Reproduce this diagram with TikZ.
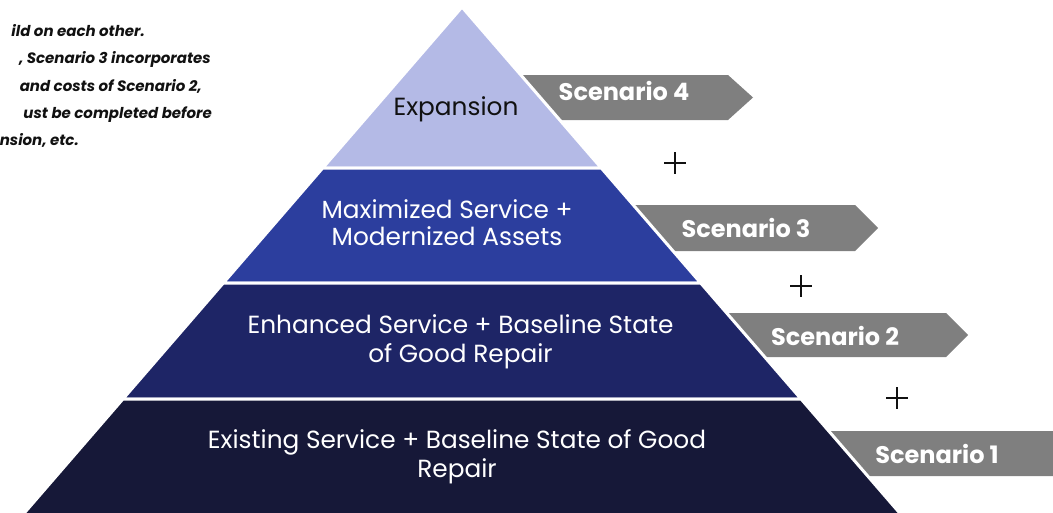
\documentclass[tikz,border=0pt]{standalone}
\usepackage{fontspec}
\setmainfont{Poppins}
\newfontfamily\tierfont{Poppins}
\definecolor{expc}{RGB}{180,186,230}
\definecolor{tthree}{RGB}{44,62,158}
\definecolor{ttwo}{RGB}{30,37,102}
\definecolor{tone}{RGB}{22,24,56}
\definecolor{arrowgrey}{RGB}{127,127,127}
\definecolor{inkc}{RGB}{17,17,17}
\tikzset{
  tier/.style={draw=white, line width=3pt, line join=miter},
  scenarrow/.style={fill=arrowgrey},
  tiertext/.style={anchor=base, inner sep=0pt, font=\tierfont\fontsize{24.8}{28}\selectfont},
  scentext/.style={anchor=base, inner sep=0pt, text=white, font=\tierfont\bfseries\fontsize{24}{28}\selectfont},
  notetext/.style={anchor=base east, inner sep=0pt, text=inkc, font=\tierfont\bfseries\itshape\fontsize{15}{18}\selectfont},
  plusnode/.style={minimum size=22pt, inner sep=0pt,
    path picture={\draw[inkc, line width=1.5pt]
      (path picture bounding box.north) -- (path picture bounding box.south)
      (path picture bounding box.west) -- (path picture bounding box.east);}},
}
\begin{document}
\begin{tikzpicture}[x=1pt,y=-1pt]
\useasboundingbox (0,0) rectangle (1053,512);
\clip (0,0) rectangle (1053,512);
% scenario arrows (behind pyramid)
\fill[scenarrow] (506,75) -- (728,75) -- (753,97.5) -- (728,120) -- (545,120) -- cycle;
\fill[scenarrow] (618,205) -- (855,205) -- (878,228) -- (855,251) -- (658,251) -- cycle;
\fill[scenarrow] (712,313) -- (946,313) -- (968,335) -- (946,357) -- (750,357) -- cycle;
\fill[scenarrow] (814,431) -- (1056,431) -- (1079,453.5) -- (1056,476) -- (853,476) -- cycle;
% pyramid tiers
\fill[expc, tier] (462,7) -- (601.3,168) -- (322.7,168) -- cycle;
\filldraw[fill=tthree, tier] (322.7,168) -- (601.3,168) -- (700.7,283) -- (223.3,283) -- cycle;
\filldraw[fill=ttwo, tier] (223.3,283) -- (700.7,283) -- (801.1,399) -- (122.9,399) -- cycle;
\filldraw[fill=tone, tier] (122.9,399) -- (801.1,399) -- (914.4,530) -- (9.6,530) -- cycle;
% tier texts
\node[tiertext, text=inkc] (t4) at (456,115) {Expansion};
\node[tiertext, text=white] (t3a) at (447,218) {Maximized Service +};
\node[tiertext, text=white] (t3b) at (447,245) {Modernized Assets};
\node[tiertext, text=white] (t2a) at (460.5,333) {Enhanced Service + Baseline State};
\node[tiertext, text=white] (t2b) at (460.5,362) {of Good Repair};
\node[tiertext, text=white] (t1a) at (457,448) {Existing Service + Baseline State of Good};
\node[tiertext, text=white] (t1b) at (457,477) {Repair};
% scenario labels
\node[scentext] (s4) at (624,100) {Scenario 4};
\node[scentext] (s3) at (746,237) {Scenario 3};
\node[scentext] (s2) at (835,345) {Scenario 2};
\node[scentext] (s1) at (937,463) {Scenario 1};
% plus signs
\node[plusnode] (p1) at (675,163) {};
\node[plusnode] (p2) at (801,286) {};
\node[plusnode] (p3) at (897,398) {};
% notes
\node[notetext] (n1) at (145,36) {ild on each other.};
\node[notetext] (n2) at (211,63) {, Scenario 3 incorporates};
\node[notetext] (n3) at (202,91) {and costs of Scenario 2,};
\node[notetext] (n4) at (212,118) {ust be completed before};
\node[notetext] (n5) at (79,145) {nsion, etc.};
\end{tikzpicture}
\end{document}
